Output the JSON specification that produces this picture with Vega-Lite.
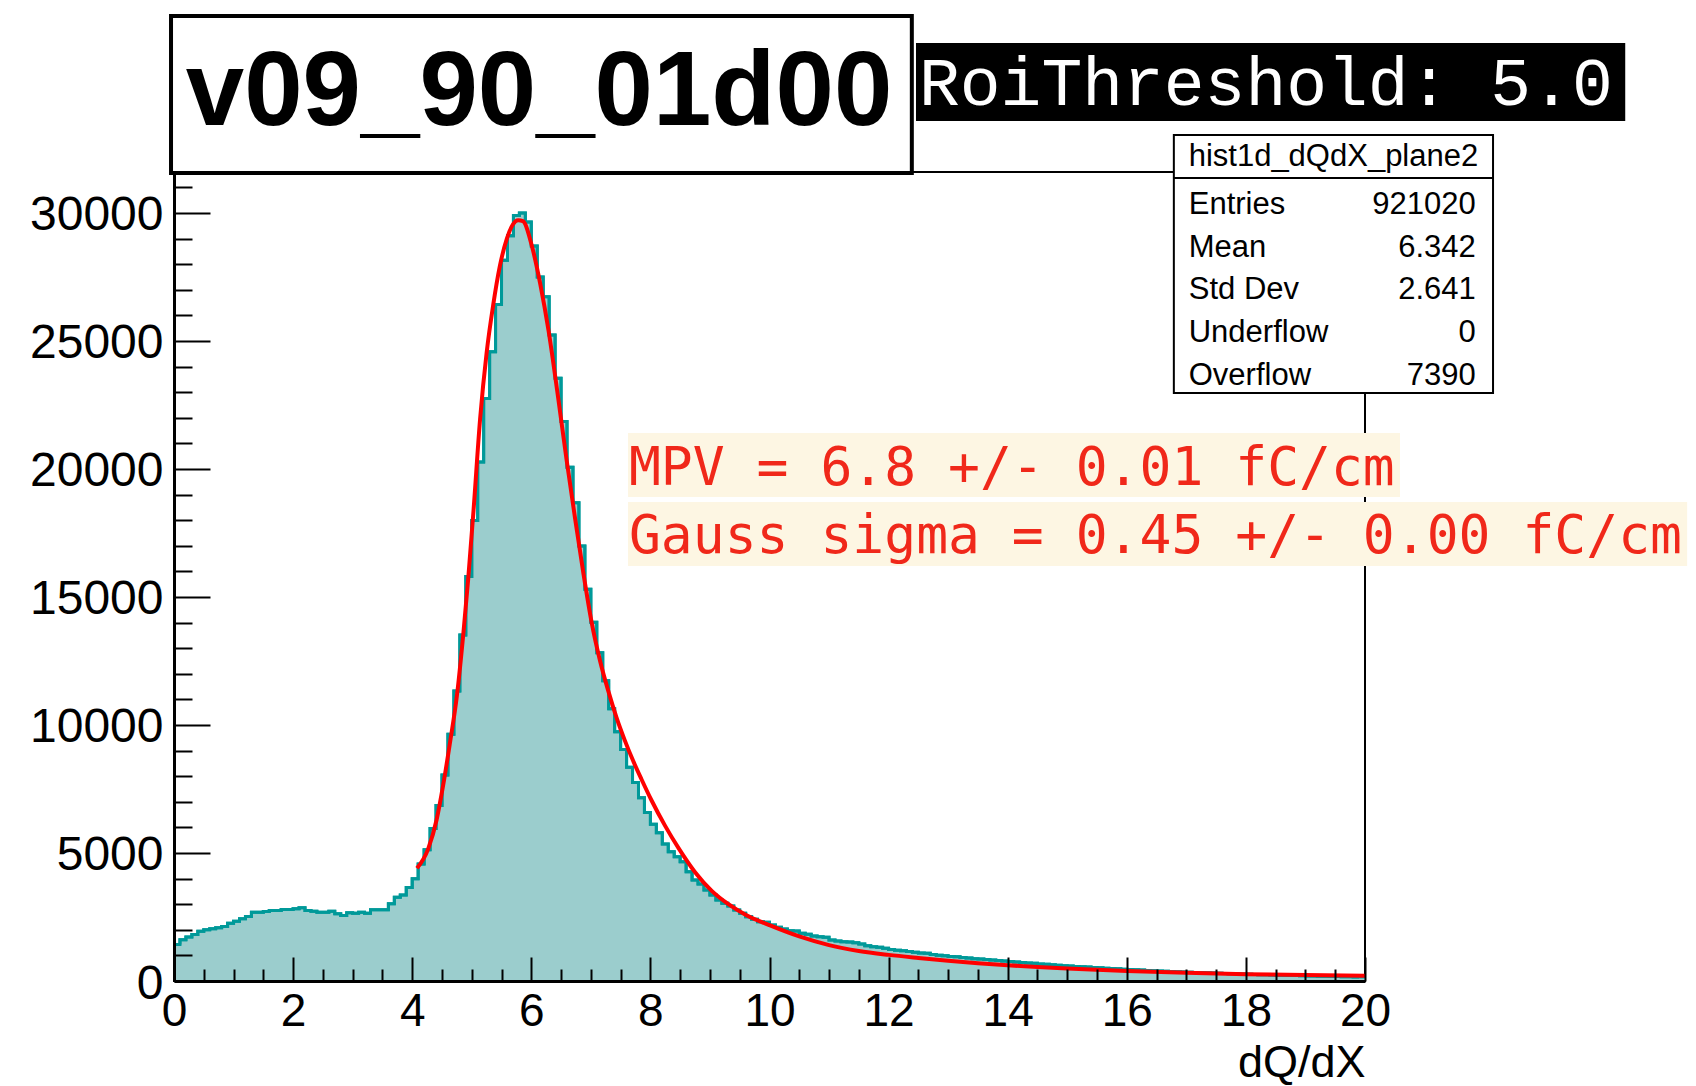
{
  "$schema": "https://vega.github.io/schema/vega-lite/v6.json",
  "width": 1191,
  "height": 809,
  "autosize": {"type": "none"},
  "padding": {"left": 174, "top": 172, "right": 331, "bottom": 105},
  "background": "white",
  "config": {"view": {"stroke": "black", "strokeWidth": 2}},
  "datasets": {
    "hist": [
      {"lo":0.0,"hi":0.1,"n":1429},{"lo":0.1,"hi":0.2,"n":1610},{"lo":0.2,"hi":0.3,"n":1714},{"lo":0.3,"hi":0.4,"n":1818},{"lo":0.4,"hi":0.5,"n":1948},
      {"lo":0.5,"hi":0.6,"n":2000},{"lo":0.6,"hi":0.7,"n":2039},{"lo":0.7,"hi":0.8,"n":2078},{"lo":0.8,"hi":0.9,"n":2130},{"lo":0.9,"hi":1.0,"n":2260},
      {"lo":1.0,"hi":1.1,"n":2338},{"lo":1.1,"hi":1.2,"n":2429},{"lo":1.2,"hi":1.3,"n":2519},{"lo":1.3,"hi":1.4,"n":2688},{"lo":1.4,"hi":1.5,"n":2688},
      {"lo":1.5,"hi":1.6,"n":2714},{"lo":1.6,"hi":1.7,"n":2753},{"lo":1.7,"hi":1.8,"n":2753},{"lo":1.8,"hi":1.9,"n":2792},{"lo":1.9,"hi":2.0,"n":2792},
      {"lo":2.0,"hi":2.1,"n":2818},{"lo":2.1,"hi":2.2,"n":2857},{"lo":2.2,"hi":2.3,"n":2753},{"lo":2.3,"hi":2.4,"n":2727},{"lo":2.4,"hi":2.5,"n":2688},
      {"lo":2.5,"hi":2.6,"n":2688},{"lo":2.6,"hi":2.7,"n":2727},{"lo":2.7,"hi":2.8,"n":2623},{"lo":2.8,"hi":2.9,"n":2558},{"lo":2.9,"hi":3.0,"n":2662},
      {"lo":3.0,"hi":3.1,"n":2649},{"lo":3.1,"hi":3.2,"n":2688},{"lo":3.2,"hi":3.3,"n":2649},{"lo":3.3,"hi":3.4,"n":2779},{"lo":3.4,"hi":3.5,"n":2779},
      {"lo":3.5,"hi":3.6,"n":2779},{"lo":3.6,"hi":3.7,"n":3013},{"lo":3.7,"hi":3.8,"n":3273},{"lo":3.8,"hi":3.9,"n":3355},{"lo":3.9,"hi":4.0,"n":3650},
      {"lo":4.0,"hi":4.1,"n":3990},{"lo":4.1,"hi":4.2,"n":4570},{"lo":4.2,"hi":4.3,"n":5128},{"lo":4.3,"hi":4.4,"n":5961},{"lo":4.4,"hi":4.5,"n":6855},
      {"lo":4.5,"hi":4.6,"n":8046},{"lo":4.6,"hi":4.7,"n":9636},{"lo":4.7,"hi":4.8,"n":11327},{"lo":4.8,"hi":4.9,"n":13515},{"lo":4.9,"hi":5.0,"n":15796},
      {"lo":5.0,"hi":5.1,"n":17983},{"lo":5.1,"hi":5.2,"n":20268},{"lo":5.2,"hi":5.3,"n":22752},{"lo":5.3,"hi":5.4,"n":24580},{"lo":5.4,"hi":5.5,"n":26428},
      {"lo":5.5,"hi":5.6,"n":28154},{"lo":5.6,"hi":5.7,"n":29108},{"lo":5.7,"hi":5.8,"n":29904},{"lo":5.8,"hi":5.9,"n":30002},{"lo":5.9,"hi":6.0,"n":29650},
      {"lo":6.0,"hi":6.1,"n":28709},{"lo":6.1,"hi":6.2,"n":27500},{"lo":6.2,"hi":6.3,"n":26725},{"lo":6.3,"hi":6.4,"n":25233},{"lo":6.4,"hi":6.5,"n":23545},
      {"lo":6.5,"hi":6.6,"n":21858},{"lo":6.6,"hi":6.7,"n":20069},{"lo":6.7,"hi":6.8,"n":18679},{"lo":6.8,"hi":6.9,"n":16991},{"lo":6.9,"hi":7.0,"n":15300},
      {"lo":7.0,"hi":7.1,"n":14011},{"lo":7.1,"hi":7.2,"n":12817},{"lo":7.2,"hi":7.3,"n":11725},{"lo":7.3,"hi":7.4,"n":10632},{"lo":7.4,"hi":7.5,"n":9739},
      {"lo":7.5,"hi":7.6,"n":9042},{"lo":7.6,"hi":7.7,"n":8347},{"lo":7.7,"hi":7.8,"n":7750},{"lo":7.8,"hi":7.9,"n":7155},{"lo":7.9,"hi":8.0,"n":6580},
      {"lo":8.0,"hi":8.1,"n":6120},{"lo":8.1,"hi":8.2,"n":5794},{"lo":8.2,"hi":8.3,"n":5351},{"lo":8.3,"hi":8.4,"n":5052},{"lo":8.4,"hi":8.5,"n":4857},
      {"lo":8.5,"hi":8.6,"n":4661},{"lo":8.6,"hi":8.7,"n":4271},{"lo":8.7,"hi":8.8,"n":3945},{"lo":8.8,"hi":8.9,"n":3789},{"lo":8.9,"hi":9.0,"n":3554},
      {"lo":9.0,"hi":9.1,"n":3359},{"lo":9.1,"hi":9.2,"n":3164},{"lo":9.2,"hi":9.3,"n":3034},{"lo":9.3,"hi":9.4,"n":2930},{"lo":9.4,"hi":9.5,"n":2773},
      {"lo":9.5,"hi":9.6,"n":2643},{"lo":9.6,"hi":9.7,"n":2513},{"lo":9.7,"hi":9.8,"n":2409},{"lo":9.8,"hi":9.9,"n":2318},{"lo":9.9,"hi":10.0,"n":2290},
      {"lo":10.0,"hi":10.1,"n":2187},{"lo":10.1,"hi":10.2,"n":2096},{"lo":10.2,"hi":10.3,"n":2031},{"lo":10.3,"hi":10.4,"n":1966},{"lo":10.4,"hi":10.5,"n":1950},
      {"lo":10.5,"hi":10.6,"n":1862},{"lo":10.6,"hi":10.7,"n":1823},{"lo":10.7,"hi":10.8,"n":1758},{"lo":10.8,"hi":10.9,"n":1732},{"lo":10.9,"hi":11.0,"n":1706},
      {"lo":11.0,"hi":11.1,"n":1601},{"lo":11.1,"hi":11.2,"n":1562},{"lo":11.2,"hi":11.3,"n":1536},{"lo":11.3,"hi":11.4,"n":1520},{"lo":11.4,"hi":11.5,"n":1497},
      {"lo":11.5,"hi":11.6,"n":1445},{"lo":11.6,"hi":11.7,"n":1380},{"lo":11.7,"hi":11.8,"n":1341},{"lo":11.8,"hi":11.9,"n":1315},{"lo":11.9,"hi":12.0,"n":1276},
      {"lo":12.0,"hi":12.1,"n":1230},{"lo":12.1,"hi":12.2,"n":1200},{"lo":12.2,"hi":12.3,"n":1185},{"lo":12.3,"hi":12.4,"n":1150},{"lo":12.4,"hi":12.5,"n":1120},
      {"lo":12.5,"hi":12.6,"n":1095},{"lo":12.6,"hi":12.7,"n":1080},{"lo":12.7,"hi":12.8,"n":1040},{"lo":12.8,"hi":12.9,"n":1010},{"lo":12.9,"hi":13.0,"n":990},
      {"lo":13.0,"hi":13.1,"n":960},{"lo":13.1,"hi":13.2,"n":945},{"lo":13.2,"hi":13.3,"n":920},{"lo":13.3,"hi":13.4,"n":895},{"lo":13.4,"hi":13.5,"n":870},
      {"lo":13.5,"hi":13.6,"n":855},{"lo":13.6,"hi":13.7,"n":840},{"lo":13.7,"hi":13.8,"n":820},{"lo":13.8,"hi":13.9,"n":800},{"lo":13.9,"hi":14.0,"n":780},
      {"lo":14.0,"hi":14.1,"n":765},{"lo":14.1,"hi":14.2,"n":745},{"lo":14.2,"hi":14.3,"n":720},{"lo":14.3,"hi":14.4,"n":700},{"lo":14.4,"hi":14.5,"n":690},
      {"lo":14.5,"hi":14.6,"n":665},{"lo":14.6,"hi":14.7,"n":650},{"lo":14.7,"hi":14.8,"n":630},{"lo":14.8,"hi":14.9,"n":615},{"lo":14.9,"hi":15.0,"n":600},
      {"lo":15.0,"hi":15.1,"n":585},{"lo":15.1,"hi":15.2,"n":570},{"lo":15.2,"hi":15.3,"n":555},{"lo":15.3,"hi":15.4,"n":545},{"lo":15.4,"hi":15.5,"n":525},
      {"lo":15.5,"hi":15.6,"n":515},{"lo":15.6,"hi":15.7,"n":500},{"lo":15.7,"hi":15.8,"n":485},{"lo":15.8,"hi":15.9,"n":475},{"lo":15.9,"hi":16.0,"n":460},
      {"lo":16.0,"hi":16.1,"n":450},{"lo":16.1,"hi":16.2,"n":440},{"lo":16.2,"hi":16.3,"n":425},{"lo":16.3,"hi":16.4,"n":415},{"lo":16.4,"hi":16.5,"n":405},
      {"lo":16.5,"hi":16.6,"n":395},{"lo":16.6,"hi":16.7,"n":385},{"lo":16.7,"hi":16.8,"n":375},{"lo":16.8,"hi":16.9,"n":365},{"lo":16.9,"hi":17.0,"n":355},
      {"lo":17.0,"hi":17.1,"n":345},{"lo":17.1,"hi":17.2,"n":335},{"lo":17.2,"hi":17.3,"n":330},{"lo":17.3,"hi":17.4,"n":320},{"lo":17.4,"hi":17.5,"n":310},
      {"lo":17.5,"hi":17.6,"n":300},{"lo":17.6,"hi":17.7,"n":295},{"lo":17.7,"hi":17.8,"n":285},{"lo":17.8,"hi":17.9,"n":280},{"lo":17.9,"hi":18.0,"n":270},
      {"lo":18.0,"hi":18.1,"n":262},{"lo":18.1,"hi":18.2,"n":255},{"lo":18.2,"hi":18.3,"n":248},{"lo":18.3,"hi":18.4,"n":240},{"lo":18.4,"hi":18.5,"n":235},
      {"lo":18.5,"hi":18.6,"n":228},{"lo":18.6,"hi":18.7,"n":220},{"lo":18.7,"hi":18.8,"n":215},{"lo":18.8,"hi":18.9,"n":210},{"lo":18.9,"hi":19.0,"n":205},
      {"lo":19.0,"hi":19.1,"n":198},{"lo":19.1,"hi":19.2,"n":192},{"lo":19.2,"hi":19.3,"n":187},{"lo":19.3,"hi":19.4,"n":182},{"lo":19.4,"hi":19.5,"n":178},
      {"lo":19.5,"hi":19.6,"n":172},{"lo":19.6,"hi":19.7,"n":168},{"lo":19.7,"hi":19.8,"n":163},{"lo":19.8,"hi":19.9,"n":158},{"lo":19.9,"hi":20.0,"n":155}
    ],
    "fit": [
      {"x":4.08,"f":4400},{"x":4.27,"f":5170},{"x":4.41,"f":6300},{"x":4.52,"f":7650},{"x":4.63,"f":9240},
      {"x":4.75,"f":11130},{"x":4.86,"f":13600},{"x":4.94,"f":15700},{"x":5.03,"f":18380},{"x":5.14,"f":21950},
      {"x":5.25,"f":24540},{"x":5.36,"f":26400},{"x":5.47,"f":27900},{"x":5.59,"f":29000},{"x":5.69,"f":29550},
      {"x":5.78,"f":29720},{"x":5.86,"f":29680},{"x":6.01,"f":28710},{"x":6.15,"f":27230},{"x":6.29,"f":25400},
      {"x":6.45,"f":22800},{"x":6.59,"f":20400},{"x":6.73,"f":18150},{"x":6.87,"f":16000},{"x":7.01,"f":14050},
      {"x":7.15,"f":12550},{"x":7.29,"f":11350},{"x":7.43,"f":10300},{"x":7.57,"f":9400},{"x":7.71,"f":8600},
      {"x":7.85,"f":7880},{"x":8.02,"f":7050},{"x":8.25,"f":6050},{"x":8.47,"f":5200},{"x":8.75,"f":4250},
      {"x":9.03,"f":3520},{"x":9.31,"f":3000},{"x":9.59,"f":2600},{"x":10.01,"f":2170},{"x":10.5,"f":1740},
      {"x":11.0,"f":1400},{"x":11.5,"f":1170},{"x":12.0,"f":1020},{"x":12.5,"f":900},{"x":13.0,"f":790},
      {"x":13.5,"f":695},{"x":14.0,"f":615},{"x":14.5,"f":545},{"x":15.0,"f":485},{"x":15.5,"f":435},
      {"x":16.0,"f":390},{"x":17.0,"f":320},{"x":18.0,"f":268},{"x":19.0,"f":232},{"x":20.0,"f":205}
    ]
  },
  "layer": [
    {
      "data": {"name": "hist"},
      "mark": {"type": "area", "interpolate": "step-after", "color": "#9bcdcd"},
      "encoding": {
        "x": {
          "field": "lo", "type": "quantitative",
          "scale": {"domain": [0, 20], "nice": false, "zero": false},
          "axis": {
            "title": "dQ/dX",
            "values": [0,0.5,1,1.5,2,2.5,3,3.5,4,4.5,5,5.5,6,6.5,7,7.5,8,8.5,9,9.5,10,10.5,11,11.5,12,12.5,13,13.5,14,14.5,15,15.5,16,16.5,17,17.5,18,18.5,19,19.5,20],
            "tickCount": 200,
            "labelExpr": "datum.value % 2 === 0 ? format(datum.value, 'd') : ''",
            "tickSize": {"condition": {"test": "datum.value % 2 === 0", "value": -24}, "value": -12},
            "tickWidth": 2, "tickColor": "black",
            "domainColor": "black", "domainWidth": 3,
            "labelFont": "Liberation Sans", "labelFontSize": 46, "labelColor": "black",
            "labelBaseline": "alphabetic", "labelPadding": 68, "labelFlush": false, "labelOverlap": false,
            "grid": false, "zindex": 1,
            "titleFont": "Liberation Sans", "titleFontSize": 45, "titleFontWeight": "normal", "titleColor": "black",
            "titleAnchor": "end", "titleAlign": "right", "titleBaseline": "alphabetic", "titleX": 1191, "titleY": 95
          }
        },
        "y": {
          "field": "n", "type": "quantitative",
          "scale": {"domain": [0, 31600], "nice": false, "zero": false},
          "axis": {
            "title": null,
            "values": [0,1000,2000,3000,4000,5000,6000,7000,8000,9000,10000,11000,12000,13000,14000,15000,16000,17000,18000,19000,20000,21000,22000,23000,24000,25000,26000,27000,28000,29000,30000,31000],
            "tickCount": 200,
            "labelExpr": "datum.value % 5000 === 0 ? format(datum.value, 'd') : ''",
            "tickSize": {"condition": {"test": "datum.value % 5000 === 0", "value": -36}, "value": -18},
            "tickWidth": 2, "tickColor": "black",
            "domainColor": "black", "domainWidth": 3,
            "labelFont": "Liberation Sans", "labelFontSize": 48, "labelColor": "black",
            "labelBaseline": "alphabetic", "labelOffset": 17, "labelPadding": 47, "labelOverlap": false,
            "grid": false, "zindex": 1
          }
        }
      }
    },
    {
      "data": {"name": "hist"},
      "mark": {"type": "area", "interpolate": "step-before", "color": "#9bcdcd"},
      "encoding": {
        "x": {"field": "hi", "type": "quantitative"},
        "y": {"field": "n", "type": "quantitative"}
      }
    },
    {
      "data": {"name": "hist"},
      "mark": {"type": "line", "interpolate": "step-after", "color": "#009999", "strokeWidth": 3},
      "encoding": {
        "x": {"field": "lo", "type": "quantitative"},
        "y": {"field": "n", "type": "quantitative"}
      }
    },
    {
      "data": {"name": "hist"},
      "mark": {"type": "line", "interpolate": "step-before", "color": "#009999", "strokeWidth": 3},
      "encoding": {
        "x": {"field": "hi", "type": "quantitative"},
        "y": {"field": "n", "type": "quantitative"}
      }
    },
    {
      "data": {"name": "fit"},
      "mark": {"type": "line", "interpolate": "monotone", "color": "#ff0000", "strokeWidth": 4},
      "encoding": {
        "x": {"field": "x", "type": "quantitative"},
        "y": {"field": "f", "type": "quantitative"}
      }
    },
    {
      "data": {"values": [{"label": "v09_90_01d00"}]},
      "mark": {"type": "rect", "fill": "white", "stroke": "black", "strokeWidth": 4},
      "encoding": {
        "x": {"datum": -0.05, "type": "quantitative"},
        "x2": {"datum": 12.39},
        "y": {"datum": 31560, "type": "quantitative"},
        "y2": {"datum": 37690}
      }
    },
    {
      "data": {"values": [{"label": "v09_90_01d00"}]},
      "mark": {"type": "text", "font": "Liberation Sans", "fontWeight": "bold", "fontSize": 105, "align": "center", "baseline": "alphabetic", "color": "black"},
      "encoding": {
        "x": {"datum": 6.13, "type": "quantitative"},
        "y": {"datum": 33450, "type": "quantitative"},
        "text": {"field": "label"}
      }
    },
    {
      "data": {"values": [{"label": "RoiThreshold: 5.0"}]},
      "mark": {"type": "rect", "fill": "black"},
      "encoding": {
        "x": {"datum": 12.46, "type": "quantitative"},
        "x2": {"datum": 24.37},
        "y": {"datum": 33592, "type": "quantitative"},
        "y2": {"datum": 36638}
      }
    },
    {
      "data": {"values": [{"label": "RoiThreshold: 5.0"}]},
      "mark": {"type": "text", "font": "Liberation Mono", "fontSize": 68, "align": "left", "baseline": "alphabetic", "color": "white"},
      "encoding": {
        "x": {"datum": 12.51, "type": "quantitative"},
        "y": {"datum": 34217, "type": "quantitative"},
        "text": {"field": "label"}
      }
    },
    {
      "data": {"values": [{"name": "hist1d_dQdX_plane2"}]},
      "mark": {"type": "rect", "fill": "white", "stroke": "black", "strokeWidth": 2},
      "encoding": {
        "x": {"datum": 16.79, "type": "quantitative"},
        "x2": {"datum": 22.15},
        "y": {"datum": 22967, "type": "quantitative"},
        "y2": {"datum": 33045}
      }
    },
    {
      "data": {"values": [{"name": "hist1d_dQdX_plane2"}]},
      "mark": {"type": "rule", "color": "black", "strokeWidth": 2},
      "encoding": {
        "x": {"datum": 16.79, "type": "quantitative"},
        "x2": {"datum": 22.15},
        "y": {"datum": 31365, "type": "quantitative"}
      }
    },
    {
      "data": {"values": [{"name": "hist1d_dQdX_plane2"}]},
      "mark": {"type": "text", "font": "Liberation Sans", "fontSize": 31, "align": "center", "baseline": "alphabetic", "color": "black"},
      "encoding": {
        "x": {"datum": 19.47, "type": "quantitative"},
        "y": {"datum": 31834, "type": "quantitative"},
        "text": {"field": "name"}
      }
    },
    {
      "data": {"values": [{"keys": "Entries\nMean\nStd Dev\nUnderflow\nOverflow", "vals": "921020\n6.342\n2.641\n0\n7390"}]},
      "mark": {"type": "text", "font": "Liberation Sans", "fontSize": 31, "align": "left", "baseline": "alphabetic", "color": "black", "lineBreak": "\n", "lineHeight": 42.7},
      "encoding": {
        "x": {"datum": 17.04, "type": "quantitative"},
        "y": {"datum": 29959, "type": "quantitative"},
        "text": {"field": "keys"}
      }
    },
    {
      "data": {"values": [{"keys": "Entries\nMean\nStd Dev\nUnderflow\nOverflow", "vals": "921020\n6.342\n2.641\n0\n7390"}]},
      "mark": {"type": "text", "font": "Liberation Sans", "fontSize": 31, "align": "right", "baseline": "alphabetic", "color": "black", "lineBreak": "\n", "lineHeight": 42.7},
      "encoding": {
        "x": {"datum": 21.86, "type": "quantitative"},
        "y": {"datum": 29959, "type": "quantitative"},
        "text": {"field": "vals"}
      }
    },
    {
      "data": {"values": [{"label": "MPV = 6.8 +/- 0.01 fC/cm"}]},
      "mark": {"type": "rect", "fill": "#fdf6e3"},
      "encoding": {
        "x": {"datum": 7.624, "type": "quantitative"},
        "x2": {"datum": 20.588},
        "y": {"datum": 18905, "type": "quantitative"},
        "y2": {"datum": 21405}
      }
    },
    {
      "data": {"values": [{"label": "MPV = 6.8 +/- 0.01 fC/cm"}]},
      "mark": {"type": "text", "font": "DejaVu Sans Mono", "fontSize": 53, "align": "left", "baseline": "alphabetic", "color": "#f0281a"},
      "encoding": {
        "x": {"datum": 7.64, "type": "quantitative"},
        "y": {"datum": 19374, "type": "quantitative"},
        "text": {"field": "label"}
      }
    },
    {
      "data": {"values": [{"label": "Gauss sigma = 0.45 +/- 0.00 fC/cm"}]},
      "mark": {"type": "rect", "fill": "#fdf6e3"},
      "encoding": {
        "x": {"datum": 7.624, "type": "quantitative"},
        "x2": {"datum": 25.41},
        "y": {"datum": 16210, "type": "quantitative"},
        "y2": {"datum": 18710}
      }
    },
    {
      "data": {"values": [{"label": "Gauss sigma = 0.45 +/- 0.00 fC/cm"}]},
      "mark": {"type": "text", "font": "DejaVu Sans Mono", "fontSize": 53, "align": "left", "baseline": "alphabetic", "color": "#f0281a"},
      "encoding": {
        "x": {"datum": 7.64, "type": "quantitative"},
        "y": {"datum": 16718, "type": "quantitative"},
        "text": {"field": "label"}
      }
    }
  ]
}
